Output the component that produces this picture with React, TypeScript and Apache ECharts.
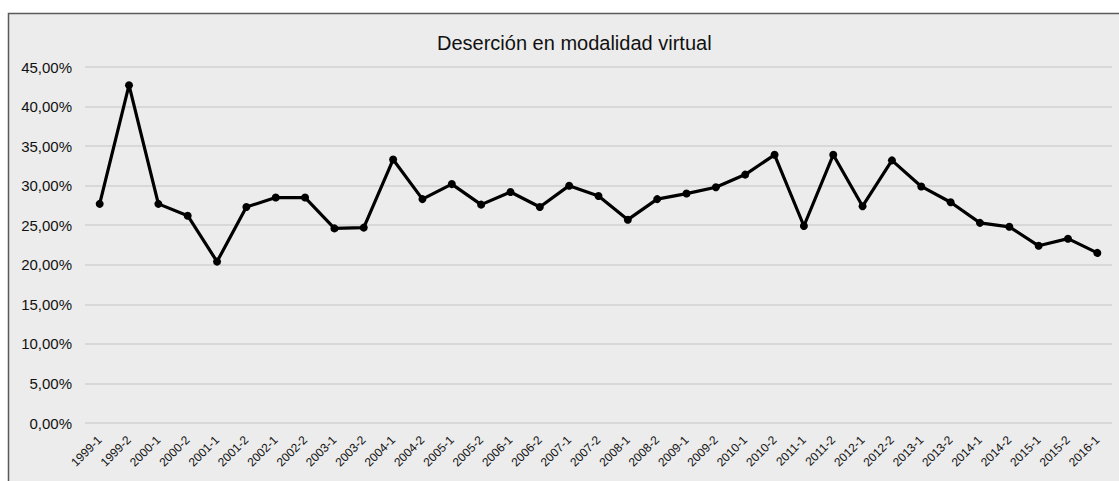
import React, { useEffect, useRef } from "react";
import * as echarts from "echarts";

const categories = [
  "1999-1", "1999-2", "2000-1", "2000-2", "2001-1", "2001-2", "2002-1", "2002-2",
  "2003-1", "2003-2", "2004-1", "2004-2", "2005-1", "2005-2", "2006-1", "2006-2",
  "2007-1", "2007-2", "2008-1", "2008-2", "2009-1", "2009-2", "2010-1", "2010-2",
  "2011-1", "2011-2", "2012-1", "2012-2", "2013-1", "2013-2", "2014-1", "2014-2",
  "2015-1", "2015-2", "2016-1",
];

const desercion = [
  27.7, 42.7, 27.7, 26.2, 20.4, 27.3, 28.5, 28.5,
  24.6, 24.7, 33.3, 28.3, 30.2, 27.6, 29.2, 27.3,
  30.0, 28.7, 25.7, 28.3, 29.0, 29.8, 31.4, 33.9,
  24.9, 33.9, 27.4, 33.2, 29.9, 27.9, 25.3, 24.8,
  22.4, 23.3, 21.5,
];

const title = "Deserción en modalidad virtual";

export default function App() {
  const ref = useRef<HTMLDivElement>(null);
  useEffect(() => {
    if (!ref.current) return;
    const chart = echarts.init(ref.current, undefined, { renderer: "svg" });
    chart.setOption({
      animation: false,
      backgroundColor: "#ffffff",
      textStyle: { fontFamily: "Liberation Sans, Arial, sans-serif" },
      graphic: [
        {
          type: "rect",
          z: -10,
          silent: true,
          shape: { x: 8.5, y: 13.5, width: 1120, height: 480 },
          style: { fill: "#ececec", stroke: "#5a5a5a", lineWidth: 1.5 },
        },
      ],
      title: {
        text: title,
        left: 432,
        top: 28,
        textStyle: { fontSize: 20, fontWeight: "normal", color: "#111" },
      },
      grid: { left: 85, right: 7, top: 67, bottom: 58, containLabel: false },
      xAxis: {
        type: "category",
        data: categories,
        boundaryGap: true,
        axisLine: { show: false },
        axisTick: { show: false },
        axisLabel: {
          interval: 0,
          rotate: 45,
          fontSize: 12,
          color: "#111",
          margin: 15,
        },
      },
      yAxis: {
        type: "value",
        min: 0,
        max: 45,
        interval: 5,
        axisLine: { show: false },
        axisTick: { show: false },
        axisLabel: {
          fontSize: 15,
          color: "#111",
          margin: 13,
          formatter: (v: number) => v.toFixed(2).replace(".", ",") + "%",
        },
        splitLine: { lineStyle: { color: "#d2d2d2", width: 1.5 } },
      },
      series: [
        {
          type: "line",
          data: desercion,
          symbol: "circle",
          symbolSize: 8,
          itemStyle: { color: "#000" },
          lineStyle: { color: "#000", width: 3.2 },
        },
      ],
    });
    return () => chart.dispose();
  }, []);
  return (
    <div
      ref={ref}
      style={{ position: "fixed", left: 0, top: 0, width: 1119, height: 481 }}
    />
  );
}
